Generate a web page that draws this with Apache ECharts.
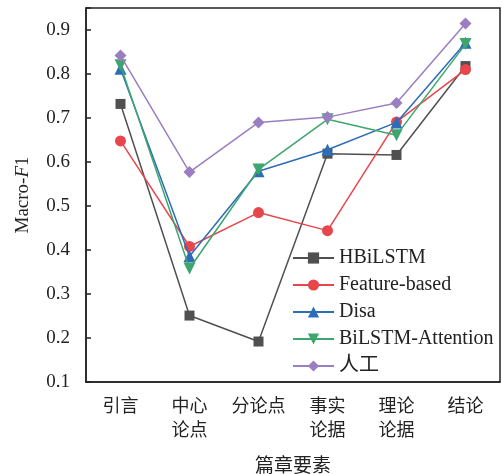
<!DOCTYPE html>
<html><head><meta charset="utf-8">
<script src="https://cdn.jsdelivr.net/npm/echarts@6/dist/echarts.min.js"></script>
<style>html,body{margin:0;padding:0;background:#fff}#c{width:502px;height:474px}</style>
</head><body><div id="c"></div>
<script>
const categories = ['引言', '中心\n论点', '分论点', '事实\n论据', '理论\n论据', '结论'];
const seriesNames = ['HBiLSTM', 'Feature-based', 'Disa', 'BiLSTM-Attention', '人工'];
const hbilstm = [0.732, 0.251, 0.192, 0.619, 0.616, 0.818];
const featureBased = [0.648, 0.408, 0.485, 0.444, 0.691, 0.810];
const disa = [0.812, 0.386, 0.579, 0.628, 0.690, 0.871];
const bilstmAtt = [0.820, 0.358, 0.583, 0.697, 0.661, 0.868];
const human = [0.842, 0.577, 0.690, 0.702, 0.734, 0.915];
const yTicks = [0.1, 0.2, 0.3, 0.4, 0.5, 0.6, 0.7, 0.8, 0.9];

const colors = ['#505050', '#e8464d', '#2c6cb8', '#3da56e', '#9b7dc2'];
const symbols = ['rect', 'circle', 'triangle', 'path://M0,0 L10,0 L5,10 Z', 'diamond'];
const sizes = [10, 11, 12, 12, 12];
const dataList = [hbilstm, featureBased, disa, bilstmAtt, human];
const latin = '"Liberation Serif", "Times New Roman", "Noto Sans CJK SC", serif';

const chart = echarts.init(document.getElementById('c'), null, {renderer: 'canvas'});
chart.setOption({
  animation: false,
  backgroundColor: '#fff',
  grid: {left: 86, right: 2, top: 8, bottom: 92, outerBoundsMode: 'none', containLabel: false,
         show: true, borderColor: '#222', borderWidth: 1.5, backgroundColor: 'transparent'},
  legend: {
    orient: 'vertical', left: 292, top: 248, padding: 0, itemWidth: 41, itemHeight: 14, itemGap: 7,
    textStyle: {fontFamily: latin, fontSize: 20, color: '#222'},
    data: seriesNames
  },
  xAxis: {
    type: 'category', data: categories, boundaryGap: true,
    axisLine: {lineStyle: {color: '#222', width: 1.5}},
    axisTick: {inside: true, alignWithLabel: true, length: 5, lineStyle: {color: '#222', width: 1.5}},
    axisLabel: {fontFamily: latin, fontSize: 18, color: '#222', lineHeight: 24, margin: 13, interval: 0},
    name: '篇章要素', nameLocation: 'middle', nameGap: 76,
    nameTextStyle: {fontFamily: latin, fontSize: 19, color: '#222'}
  },
  yAxis: {
    type: 'value', min: 0.1, max: 0.95, interval: 0.1,
    splitLine: {show: false},
    axisLine: {show: true, lineStyle: {color: '#222', width: 1.5}},
    axisTick: {show: true, inside: true, length: 5, lineStyle: {color: '#222', width: 1.5}},
    axisLabel: {
      fontFamily: latin, fontSize: 19, color: '#222', margin: 16,
      formatter: v => { const t = yTicks.find(x => Math.abs(x - v) < 1e-6); return t !== undefined ? t.toFixed(1) : ''; }
    },
    name: '{a|Macro-}{b|F}{a|1}', nameLocation: 'middle', nameGap: 53, nameRotate: 90,
    nameTextStyle: {rich: {a: {fontFamily: latin, fontSize: 19, color: '#222'}, b: {fontFamily: latin, fontSize: 19, fontStyle: 'italic', color: '#222'}}}
  },
  series: seriesNames.map((n, i) => ({
    name: n, type: 'line', data: dataList[i],
    symbol: symbols[i], symbolSize: sizes[i], showAllSymbol: true,
    lineStyle: {color: colors[i], width: 1.5},
    itemStyle: {color: colors[i]},
    z: 2 + i
  }))
});
</script></body></html>
